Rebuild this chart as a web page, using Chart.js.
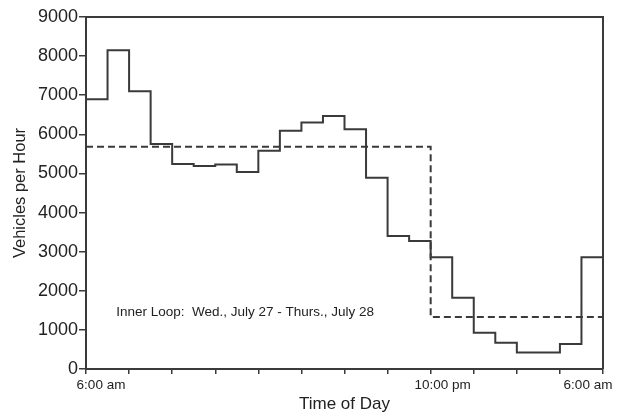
<!DOCTYPE html>
<html>
<head>
<meta charset="utf-8">
<script src="https://cdn.jsdelivr.net/npm/chart.js@4.4.1/dist/chart.umd.min.js"></script>
<style>
  html, body { margin: 0; padding: 0; background: #ffffff; }
  #wrap { width: 621px; height: 419px; }
</style>
</head>
<body>
<div id="wrap"><canvas id="c" width="621" height="419"></canvas></div>
<script>
// ---- data ----
const hourStarts = [0,1,2,3,4,5,6,7,8,9,10,11,12,13,14,15,16,17,18,19,20,21,22,23];
const vehiclesPerHour = [6900, 8150, 7100, 5750, 5240, 5190, 5230, 5040, 5580, 6090, 6300, 6470,
                         6130, 4890, 3400, 3270, 2860, 1820, 930, 670, 420, 420, 640, 2860];
const averageHours = [0, 16, 16, 24];
const averageValues = [5680, 5680, 1330, 1330];
const xTickHours = [0, 16, 24];
const xTickLabels = ['6:00 am', '10:00 pm', '6:00 am'];
const yTickValues = [0,1000,2000,3000,4000,5000,6000,7000,8000,9000];
const xTitle = 'Time of Day';
const yTitle = 'Vehicles per Hour';
const noteText = 'Inner Loop:  Wed., July 27 - Thurs., July 28';
const notePosition = { hour: 1.4, value: 1460 };

// build step points: each hour's value starts at the hour, last one runs to 24
const stepPoints = hourStarts.map((h, i) => ({ x: h, y: vehiclesPerHour[i] }));
stepPoints.push({ x: 24, y: vehiclesPerHour[vehiclesPerHour.length - 1] });
const avgPoints = averageHours.map((h, i) => ({ x: h, y: averageValues[i] }));

const FONT = "'Liberation Sans', Arial, Helvetica, sans-serif";
const INK = '#3a3a3a';

const framePlugin = {
  id: 'frameAndText',
  afterDraw(chart) {
    const { ctx, chartArea: a, scales } = chart;
    ctx.save();
    // top and right frame lines
    ctx.strokeStyle = INK;
    ctx.lineWidth = 2;
    ctx.beginPath();
    ctx.moveTo(a.left, a.top);
    ctx.lineTo(a.right, a.top);
    ctx.lineTo(a.right, a.bottom);
    ctx.stroke();
    // x tick labels (offsets as in reference)
    const offsets = [15, 12, -15];
    ctx.fillStyle = '#222';
    ctx.font = '13.5px ' + FONT;
    ctx.textAlign = 'center';
    ctx.textBaseline = 'middle';
    xTickHours.forEach((h, i) => {
      const px = scales.x.getPixelForValue(h) + offsets[i];
      ctx.fillText(xTickLabels[i], px, a.bottom + 16);
    });
    // annotation
    ctx.font = '13.5px ' + FONT;
    ctx.textAlign = 'left';
    ctx.fillText(noteText, scales.x.getPixelForValue(notePosition.hour),
                 scales.y.getPixelForValue(notePosition.value));
    ctx.restore();
  }
};

new Chart(document.getElementById('c'), {
  type: 'line',
  data: {
    datasets: [
      {
        label: 'Hourly volume',
        data: stepPoints,
        stepped: 'before',
        borderColor: INK,
        borderWidth: 2,
        pointRadius: 0,
        fill: false
      },
      {
        label: 'Average',
        data: avgPoints,
        borderColor: INK,
        borderWidth: 2,
        borderDash: [7, 4],
        pointRadius: 0,
        fill: false
      }
    ]
  },
  options: {
    responsive: false,
    animation: false,
    events: [],
    layout: { padding: { left: 0, top: 17, right: 18, bottom: 0 } },
    plugins: { legend: { display: false }, tooltip: { enabled: false } },
    scales: {
      x: {
        type: 'linear',
        min: 0,
        max: 24,
        afterFit(scale) { scale.height = 50; },
        border: { color: INK, width: 2 },
        grid: { drawOnChartArea: false, drawTicks: true, tickLength: 5, color: INK, lineWidth: 1.5 },
        ticks: { stepSize: 2, callback: () => '', maxRotation: 0, autoSkip: false },
        title: {
          display: true,
          text: xTitle,
          color: '#222',
          font: { family: FONT, size: 17, lineHeight: 1.2 },
          padding: { top: 0, bottom: 4 }
        }
      },
      y: {
        min: 0,
        max: 9000,
        afterFit(scale) { scale.width = 86; },
        afterBuildTicks(scale) { scale.ticks = yTickValues.map(v => ({ value: v })); },
        border: { color: INK, width: 2 },
        grid: { drawOnChartArea: false, drawTicks: true, tickLength: 7, color: INK, lineWidth: 1.5 },
        ticks: {
          padding: 1,
          color: '#222',
          font: { family: FONT, size: 18 },
          callback: (v) => String(v)
        },
        title: {
          display: true,
          text: yTitle,
          color: '#222',
          font: { family: FONT, size: 16.5, lineHeight: 1.2 },
          padding: { top: 11, bottom: 0 }
        }
      }
    }
  },
  plugins: [framePlugin]
});
</script>
</body>
</html>
